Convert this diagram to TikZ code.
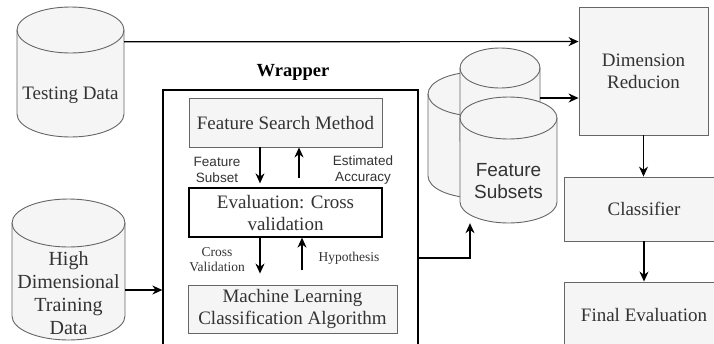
\documentclass[tikz,border=0pt]{standalone}
\usepackage{fontspec}
\setmainfont{Liberation Serif}
\setsansfont{Liberation Sans}
\usetikzlibrary{arrows.meta}
\definecolor{boxfill}{HTML}{F5F5F5}
\definecolor{boxline}{HTML}{666666}
\definecolor{txtgray}{HTML}{333333}
\tikzset{
  arr/.style={-{Stealth[length=10pt,width=9pt]}, line width=1.2pt, draw=black},
  graybox/.style={draw=boxline, fill=boxfill, line width=0.9pt, text=txtgray,
    font=\fontsize{19}{22}\selectfont, align=center, inner sep=0pt},
  cylbody/.style={draw=boxline, fill=boxfill, line width=0.9pt},
  plain/.style={inner sep=0pt, align=center},
  bigserif/.style={font=\fontsize{19}{22}\selectfont, text=txtgray},
  smallsans/.style={font=\sffamily\fontsize{13.5}{16}\selectfont, text=txtgray},
  smallserif/.style={font=\fontsize{13.5}{15}\selectfont, text=txtgray},
}
\newcommand\mycyl[5]{%
  \pgfmathsetmacro\cylrx{(#3-#1)/2}%
  \filldraw[cylbody] (#1,#2+#5) -- (#1,#4-#5)
     arc[start angle=180,end angle=0,x radius=\cylrx,y radius=#5]
     -- (#3,#2+#5)
     arc[start angle=0,end angle=-180,x radius=\cylrx,y radius=#5] -- cycle;
  \draw[cylbody,fill=none] (#1,#2+#5)
     arc[start angle=180,end angle=0,x radius=\cylrx,y radius=#5];
}
\begin{document}
\begin{tikzpicture}[x=1pt,y=-1pt]
\useasboundingbox (0,0) rectangle (714,343);
\clip (0,0) rectangle (714,343);

% Testing data cylinder
\mycyl{17}{7}{124}{137}{23}
\node[plain, bigserif, minimum width=107pt, minimum height=84pt] (test) at (70.5,95) {Testing Data};

% High dimensional training data cylinder
\mycyl{12}{199}{125}{340}{24}
\node[plain, font=\fontsize{20}{23}\selectfont, text=txtgray, minimum width=113pt, minimum height=93pt] (hd) at (68.5,293.5) {High\\Dimensional\\Training\\Data};

% Feature subsets (three cylinders)
\mycyl{428}{72}{525}{198}{22}
\mycyl{460}{48}{540}{160}{20}
\mycyl{460}{97}{557}{223}{21}
\node[plain, font=\sffamily\fontsize{19}{22}\selectfont, text=txtgray, minimum width=97pt, minimum height=84pt] (fs) at (508.5,181) {Feature\\Subsets};
\coordinate (bout) at (540,98);

% Wrapper
\node[draw=black, line width=1.3pt, minimum width=255pt, minimum height=270pt, inner sep=0pt] (wrapper) at (290.5,225) {};
\node[plain, font=\bfseries\fontsize{18.5}{22}\selectfont] (wraplabel) at (293,72) {Wrapper};

\node[graybox, minimum width=193pt, minimum height=49pt] (fsm) at (285.5,122.5) {Feature Search Method};
\node[draw=black, fill=white, line width=1.3pt, font=\fontsize{19}{22}\selectfont, text=txtgray, align=center, inner sep=0pt, minimum width=193pt, minimum height=49pt] (eval) at (285.5,212.5) {Evaluation: Cross\\validation};
\node[graybox, minimum width=209pt, minimum height=48pt] (ml) at (292.5,309) {Machine Learning\\Classification Algorithm};

\node[plain, smallsans] (lfs) at (217,170) {Feature\\Subset};
\node[plain, smallsans] (lea) at (363,170) {Estimated\\Accuracy};
\node[plain, smallserif] (lcv) at (217,259.5) {Cross\\Validation};
\node[plain, smallserif] (lhy) at (349,258) {Hypothesis};

% Right column
\node[graybox, minimum width=129pt, minimum height=128pt] (dimred) at (643.5,71) {Dimension\\Reducion};
\node[graybox, minimum width=160pt, minimum height=64pt] (clf) at (644,209) {Classifier};
\node[graybox, minimum width=160pt, minimum height=66pt] (fin) at (644,315) {Final Evaluation};

% Connectors
\draw[arr] ([yshift=11pt]test.north east) -- ([yshift=-35pt]dimred.north west);
\coordinate (hdout) at ([yshift=3.5pt]hd.east);
\draw[arr] (hdout) -- (hdout -| wrapper.west);
\draw[arr] ([xshift=-25.5pt]fsm.south) -- ([xshift=-25.5pt,yshift=4pt]eval.north);
\draw[arr] ([xshift=13.5pt,yshift=9pt]eval.north) -- ([xshift=13.5pt]fsm.south);
\draw[arr] ([xshift=-25.5pt]eval.south) -- ([xshift=-32.5pt,yshift=11pt]ml.north);
\draw[arr] ([xshift=9.5pt,yshift=15pt]ml.north) -- ([xshift=16.5pt]eval.south);
\draw[arr] ([yshift=-33pt]wrapper.east) -| ([xshift=-38.5pt]fs.south);
\draw[arr] (bout) -- (bout -| dimred.west);
\draw[arr] (dimred.south) -- (dimred.south |- clf.north);
\draw[arr] (clf.south) -- (clf.south |- fin.north);
\end{tikzpicture}
\end{document}
